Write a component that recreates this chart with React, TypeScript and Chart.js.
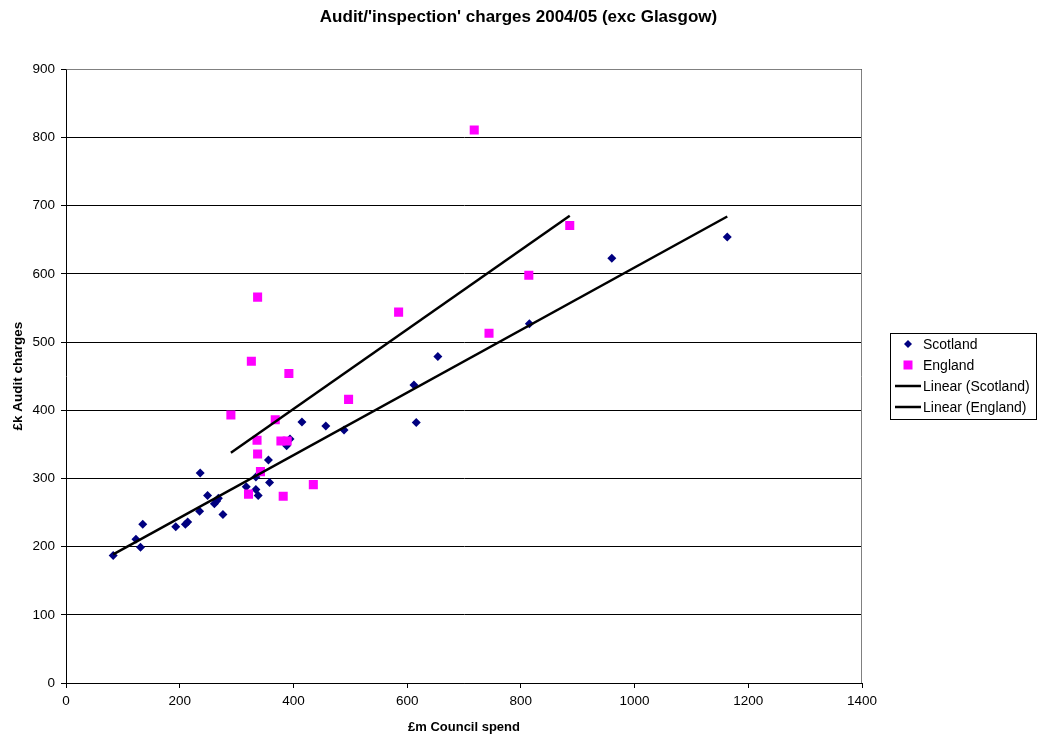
import React, { useEffect, useRef } from 'react';
import { Chart, registerables } from 'chart.js';

Chart.register(...registerables);

const chartTitle = "Audit/'inspection' charges 2004/05 (exc Glasgow)";
const xTitle = '£m Council spend';
const yTitle = '£k Audit charges';
const seriesNames = ['Scotland', 'England', 'Linear (Scotland)', 'Linear (England)'];

const scotlandSpend = [83, 123, 135, 131, 193, 210, 214, 236, 235, 249, 261, 265, 268, 276, 317, 334, 334, 338, 356, 358, 388, 394, 415, 457, 489, 612, 616, 654, 815, 960, 1163];
const scotlandCharges = [187, 211, 233, 199, 229, 233, 236, 308, 252, 275, 263, 267, 271, 247, 288, 302, 284, 275, 327, 294, 348, 358, 383, 377, 371, 437, 382, 479, 527, 623, 654];
const englandSpend = [337, 585, 326, 392, 497, 290, 368, 336, 378, 389, 337, 342, 321, 382, 435, 718, 886, 814, 744];
const englandCharges = [566, 544, 472, 454, 416, 393, 386, 356, 355, 355, 336, 310, 277, 274, 291, 811, 671, 598, 513];

const xMin = 0, xMax = 1400, xStep = 200;
const yMin = 0, yMax = 900, yStep = 100;

const FONT = '"Liberation Sans", Arial, Helvetica, sans-serif';

function pts(xs: number[], ys: number[]) {
  return xs.map((x, i) => ({ x, y: ys[i] }));
}

function trend(xs: number[], ys: number[]) {
  const n = xs.length;
  const mx = xs.reduce((a, b) => a + b, 0) / n;
  const my = ys.reduce((a, b) => a + b, 0) / n;
  let sxy = 0, sxx = 0;
  for (let i = 0; i < n; i++) {
    sxy += (xs[i] - mx) * (ys[i] - my);
    sxx += (xs[i] - mx) * (xs[i] - mx);
  }
  const b = sxy / sxx;
  const a = my - b * mx;
  const x0 = Math.min(...xs), x1 = Math.max(...xs);
  return [{ x: x0, y: a + b * x0 }, { x: x1, y: a + b * x1 }];
}

const frameAndLegend = {
  id: 'frameAndLegend',
  beforeDatasetsDraw(chart: any) {
    const { ctx, chartArea } = chart;
    ctx.save();
    ctx.strokeStyle = '#808080';
    ctx.lineWidth = 1;
    ctx.beginPath();
    ctx.moveTo(Math.round(chartArea.left) + 0.5, Math.round(chartArea.top) + 0.5);
    ctx.lineTo(Math.round(chartArea.right) - 0.5, Math.round(chartArea.top) + 0.5);
    ctx.lineTo(Math.round(chartArea.right) - 0.5, Math.round(chartArea.bottom));
    ctx.stroke();
    ctx.restore();
  },
  afterDraw(chart: any) {
    const { ctx, chartArea } = chart;
    const left = Math.round(chartArea.right) + 28;
    const right = chart.width - 1;
    const midY = (chartArea.top + chartArea.bottom) / 2;
    const rowH = 21;
    const top = Math.round(midY - 43);
    ctx.save();
    ctx.fillStyle = '#fff';
    ctx.fillRect(left, top, right - left, 86);
    ctx.strokeStyle = '#000';
    ctx.lineWidth = 1;
    ctx.strokeRect(left + 0.5, top + 0.5, right - left, 86);
    ctx.font = '14px ' + FONT;
    ctx.textBaseline = 'middle';
    ctx.textAlign = 'left';
    const ds = chart.data.datasets;
    for (let i = 0; i < ds.length; i++) {
      const y = top + 11 + i * rowH;
      const d = ds[i];
      if (d.showLine) {
        ctx.strokeStyle = d.borderColor;
        ctx.lineWidth = 2.5;
        ctx.beginPath();
        ctx.moveTo(left + 5, y);
        ctx.lineTo(left + 31, y);
        ctx.stroke();
      } else {
        ctx.fillStyle = d.backgroundColor;
        ctx.beginPath();
        if (d.pointStyle === 'rectRot') {
          const r = 4;
          ctx.moveTo(left + 18, y - r);
          ctx.lineTo(left + 18 + r, y);
          ctx.lineTo(left + 18, y + r);
          ctx.lineTo(left + 18 - r, y);
          ctx.closePath();
        } else {
          ctx.rect(left + 13.5, y - 4.5, 9, 9);
        }
        ctx.fill();
      }
      ctx.fillStyle = '#000';
      ctx.fillText(d.label, left + 33, y + 1);
    }
    ctx.restore();
  },
};

export default function App() {
  const ref = useRef<HTMLCanvasElement | null>(null);

  useEffect(() => {
    document.body.style.margin = '0';
    if (!ref.current) return;
    const chart = new Chart(ref.current, {
      type: 'scatter',
      data: {
        datasets: [
          {
            label: seriesNames[0],
            data: pts(scotlandSpend, scotlandCharges),
            pointStyle: 'rectRot',
            pointRadius: 4.5,
            pointHoverRadius: 4.5,
            backgroundColor: '#000080',
            borderColor: '#000080',
            borderWidth: 0,
            order: 2,
          },
          {
            label: seriesNames[1],
            data: pts(englandSpend, englandCharges),
            pointStyle: 'rect',
            pointRadius: 6.4,
            pointHoverRadius: 6.4,
            backgroundColor: '#FF00FF',
            borderColor: '#FF00FF',
            borderWidth: 0,
            order: 1,
          },
          {
            label: seriesNames[2],
            data: trend(scotlandSpend, scotlandCharges),
            showLine: true,
            pointRadius: 0,
            borderColor: '#000000',
            backgroundColor: '#000000',
            borderWidth: 2.5,
            order: 0,
          },
          {
            label: seriesNames[3],
            data: trend(englandSpend, englandCharges),
            showLine: true,
            pointRadius: 0,
            borderColor: '#000000',
            backgroundColor: '#000000',
            borderWidth: 2.5,
            order: 0,
          },
        ] as any,
      },
      options: {
        responsive: false,
        animation: false,
        layout: { padding: 0 },
        plugins: {
          legend: { display: false },
          tooltip: { enabled: false },
          title: {
            display: true,
            text: chartTitle,
            color: '#000',
            font: { family: FONT, size: 17, weight: 'bold' },
            padding: { top: 7, bottom: 42 },
          },
        },
        scales: {
          x: {
            type: 'linear',
            position: 'bottom',
            min: xMin,
            max: xMax,
            ticks: {
              stepSize: xStep,
              color: '#000',
              font: { family: FONT, size: 13.5 },
              padding: 5,
              maxRotation: 0,
              callback: (v: any) => String(v),
            },
            grid: { display: true, drawOnChartArea: false, drawTicks: true, tickLength: 5, color: '#000' },
            border: { display: true, color: '#000', width: 1 },
            title: { display: true, text: xTitle, color: '#000', font: { family: FONT, size: 13, weight: 'bold' }, padding: { top: 0, bottom: 1 } },
            afterFit: (s: any) => { s.height = 53; },
          },
          y: {
            type: 'linear',
            position: 'left',
            min: yMin,
            max: yMax,
            ticks: {
              stepSize: yStep,
              color: '#000',
              font: { family: FONT, size: 13.5 },
              padding: 6,
              callback: (v: any) => String(v),
            },
            grid: { display: true, drawOnChartArea: true, drawTicks: true, tickLength: 5, color: '#000' },
            border: { display: true, color: '#000', width: 1 },
            title: { display: true, text: yTitle, color: '#000', font: { family: FONT, size: 13.5, weight: 'bold' }, padding: { top: 10, bottom: 0 } },
            afterFit: (s: any) => { s.width = 66; },
          },
          pad: {
            type: 'linear',
            position: 'right',
            display: true,
            ticks: { display: false },
            grid: { display: false, drawTicks: false },
            border: { display: false },
            afterFit: (s: any) => { s.width = 175; },
          },
        },
      } as any,
      plugins: [frameAndLegend],
    });
    return () => chart.destroy();
  }, []);

  return (
    <div style={{ width: 1037, height: 736, background: '#fff' }}>
      <canvas ref={ref} width={1037} height={736} style={{ display: 'block' }} />
    </div>
  );
}
